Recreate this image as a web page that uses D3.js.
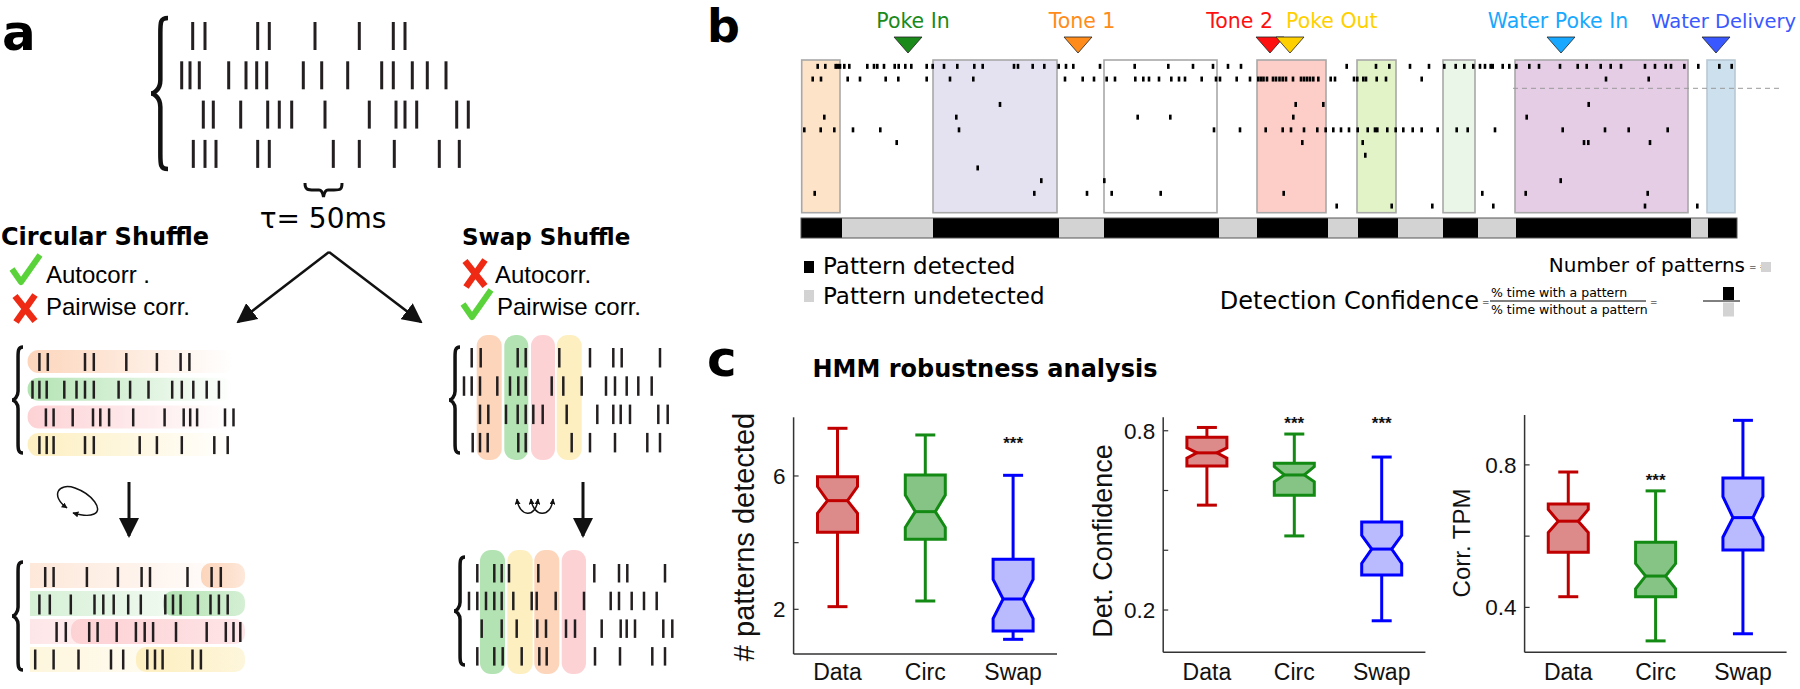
<!DOCTYPE html>
<html><head><meta charset="utf-8">
<script src="https://cdn.jsdelivr.net/npm/d3@7"></script>
<style>body{margin:0;background:#fff}svg{display:block}</style>
</head><body>
<svg id="fig" width="1800" height="689"></svg>
<script>
// ================= DATA =================
// Panel a: spike times (a.u.) per neuron
const spikesOrig = [
 [192.7,205,257.7,269.3,315,359.3,393.3,405],
 [181.7,190,199.3,228.7,246,256.7,266.7,303.3,321.7,347.7,381.7,393.3,412.3,427.3,446],
 [203.3,213.3,240.7,267.7,279.3,291.7,325,369.3,396,405,416.7,456.7,468.3],
 [193.3,205,216,257.7,269.3,333.3,359.3,394.3,439.3,459.3]
];
const spikesCircBefore = [
 [39.4,47.8,85,93.8,126.3,156.9,180.6,189.4],
 [32.5,39.4,46.7,64.3,76.5,85,93.8,118.6,130.1,148.5,172.2,181.8,193.3,206.7,218.9],
 [45.9,53.6,72.7,93,100.3,109.1,133.2,164.6,183.7,190.2,197.1,225,233.5],
 [39.4,46.7,53.6,85,93.8,139.7,156.9,181.8,214.3,227.7]
];
const spikesCircAfter = [
 [45.2,53.6,86.9,117.9,141.6,150,187.5,211.6,220.8],
 [39.4,49.8,70.8,94.5,103.3,113.7,128.2,140.8,165.3,173,180.6,197.9,210.5,218.9,227.7],
 [56.6,65.8,89.2,97.6,116.7,135.9,144.7,153.1,176,206.7,225.8,233.5,240.3],
 [35.2,53.6,78.5,111,123.2,147.3,155,162.6,192.5,200.9]
];
const spikesSwapBefore = [
 [471.7,480.7,517.7,525.7,559.3,590,613.3,621.7,660],
 [464,471.7,480,497.3,510,518.3,525.7,551.7,563.3,581.7,606,615,626.7,638.3,651.7],
 [480,488.3,506,517.7,525.7,533.3,542.7,566.7,597.3,613.3,620.7,630,658.3,667.7],
 [472.7,480,487.7,518.3,525.7,571.7,590,615,647.3,660]
];
const spikesSwapAfter = [
 [477.3,494.3,501.7,509,538.3,594.3,619,627.3,665],
 [469,477.3,486,494.3,501.7,513.3,531.7,536.7,555.7,584,610.7,619,631.7,644,656.7],
 [481.7,501.7,516.7,537.3,546,566,575,601.7,620.7,626.7,635,663.3,672.3],
 [477.3,494.3,502.7,521.7,539.3,546.7,595,620,652.3,665]
];
const neuronColors = ["#fcd5bb","#b3e3b3","#fdd2d5","#fdefc0"];
const swapWindowsBefore = [[476.7,501.7],[504.3,528.3],[531,555],[556.7,581.7]];
const swapWindowColorsBefore = [0,1,2,3];
const swapWindowsAfter = [[480,505],[507.3,532.7],[534.3,559.3],[561.7,586]];
const swapWindowColorsAfter = [1,3,0,2];

// Panel b: events
const eventNames = ["Poke In","Tone 1","Tone 2","Poke Out","Water Poke In","Water Delivery"];
const eventTimes = [908,1078,1270,1290,1561,1716];
const eventColors = ["#1a8a1a","#ff8c1a","#ff1010","#ffd000","#18a8ff","#3a58ff"];
// Panel b: HMM state segments (boundaries) and detected flag
const stateBounds = [801,842,933,1059,1104,1219,1257,1328,1358,1398,1443,1478,1516,1691,1708,1737];
const stateDetected = [1,0,1,0,1,0,1,0,1,0,1,0,1,0,1];
// Panel b: pattern boxes
const patternStart = [801.7,933,1104,1257,1357,1443,1515,1707];
const patternEnd   = [840,1057,1217,1326,1396,1475,1688,1735];
const patternColors = ["#fde3c8","#e4e2f0","#ffffff","#fdcdc8","#e2f3c8","#eaf6e8","#e5cde5","#cde0ee"];
// Panel b: spike raster, 12 neurons
const rasterB = [
 [817.7,825.3,835.7,837.7,840,844.3,849.3,867.3,874,877.3,884,894.7,898.7,905.3,911.3,926.7,932.7,944,957.3,974.3,982.7,1014,1018,1032.7,1044.3,1058.7,1066,1073.3,1100,1134.7,1168.3,1193,1213,1228,1241,1346.7,1376,1389.3,1410,1429,1444.3,1455.7,1464.3,1473.3,1480,1485,1490.7,1492.7,1502.7,1509.3,1516.3,1529.3,1539,1560,1577.7,1586.7,1600.7,1610.7,1621,1645,1655,1665.7,1671,1684.3,1698.3,1719.3,1731.7],
 [812.7,821,847.7,860,885.7,898.3,926.7,950,973.3,1065,1082.7,1094,1106.7,1115,1135.3,1143.3,1149,1159,1171.3,1179,1185,1201.7,1216,1220,1236.7,1250,1258.3,1261,1263.5,1267,1273,1276,1279.5,1282.7,1286,1293,1301,1304,1307,1310,1313.3,1318.3,1330.7,1335,1354,1357.3,1363.3,1366,1376.7,1386,1421.7,1606,1648.7],
 [],
 [1000,1295.7,1323.3,1588.7],
 [824.3,956.3,1137.7,1170.3,1293.3,1526.7],
 [804.3,820.7,834.3,853,880.3,959,1214,1240,1265.7,1282.7,1291,1304,1317.3,1325.7,1333.3,1341,1349,1357.7,1367.7,1375,1377.3,1387.3,1395.7,1403.3,1412.7,1421.7,1437.7,1456.7,1467.7,1495,1562.7,1605,1628.7,1667.7],
 [896.7,1302.3,1362.7,1584,1588.3,1650],
 [1365.3],
 [977.7],
 [1041.3,1104.3,1560.7],
 [814.7,1034.3,1087,1111.7,1160.7,1283.7,1482.3,1525.7,1647.7],
 [1336.7,1391.7,1432.3,1493.3,1645,1697.3]
];

// Panel c: box plot statistics
const categories = ["Data","Circ","Swap"];
const npWhiskLo = [2.08,2.25,1.10], npQ1 = [4.31,4.10,1.35], npNotchLo = [4.88,4.46,1.72],
      npMedian = [5.26,4.93,2.31], npNotchHi = [5.68,5.43,2.90], npQ3 = [5.98,6.03,3.50], npWhiskHi = [7.43,7.23,6.02];
const dcWhiskLo = [0.551,0.448,0.164], dcQ1 = [0.682,0.584,0.317], dcNotchLo = [0.708,0.629,0.356],
      dcMedian = [0.726,0.652,0.404], dcNotchHi = [0.743,0.680,0.450], dcQ3 = [0.778,0.691,0.495], dcWhiskHi = [0.811,0.789,0.712];
const tpWhiskLo = [0.43,0.306,0.326], tpQ1 = [0.555,0.43,0.561], tpNotchLo = [0.61,0.452,0.597],
      tpMedian = [0.642,0.488,0.652], tpNotchHi = [0.675,0.523,0.711], tpQ3 = [0.69,0.583,0.763], tpWhiskHi = [0.78,0.727,0.925];
const npSig = ["","","***"], dcSig = ["","***","***"], tpSig = ["","***",""];
const npTicks = [2,4,6], npTickLabels = ["2","","6"];
const dcTicks = [0.2,0.4,0.6,0.8], dcTickLabels = ["0.2","","","0.8"];
const tpTicks = [0.4,0.6,0.8], tpTickLabels = ["0.4","","0.8"];
const npStarLevel = 7.1, dcStarLevel = 0.839, tpStarLevel = 0.769;

// ================= DRAW =================
const svg = d3.select("#fig");
const defs = svg.append("defs");
const BOLD = "DejaVu Sans, sans-serif";
const ARIAL = "Liberation Sans, Arial, sans-serif";

function marker(id, size, color) {
  defs.append("marker").attr("id", id).attr("viewBox","0 0 10 10").attr("refX",9).attr("refY",5)
    .attr("markerWidth", size).attr("markerHeight", size).attr("markerUnits","userSpaceOnUse")
    .attr("orient","auto-start-reverse")
    .append("path").attr("d","M0,0 L10,5 L0,10 Z").attr("fill", color);
}
marker("arrBig", 20, "#111");
marker("arrSmall", 6, "#111");

neuronColors.forEach((c,i) => {
  const g1 = defs.append("linearGradient").attr("id","fade"+i);
  g1.append("stop").attr("offset","0%").attr("stop-color",c).attr("stop-opacity",1);
  g1.append("stop").attr("offset","100%").attr("stop-color",c).attr("stop-opacity",0);
  const g2 = defs.append("linearGradient").attr("id","light"+i);
  g2.append("stop").attr("offset","0%").attr("stop-color",c).attr("stop-opacity",0.55);
  g2.append("stop").attr("offset","100%").attr("stop-color",c).attr("stop-opacity",0.0);
  const g3 = defs.append("linearGradient").attr("id","seg"+i);
  g3.append("stop").attr("offset","0%").attr("stop-color",c).attr("stop-opacity",1);
  g3.append("stop").attr("offset","100%").attr("stop-color",c).attr("stop-opacity",0.55);
});

function vbrace(xt, y0, y1, w) {
  const ym = (y0+y1)/2, xb = xt + w*0.55, xe = xt + w;
  return `M${xe},${y0} C${xb},${y0} ${xb},${y0+4} ${xb},${y0+w*0.9} L${xb},${ym-w*0.8} C${xb},${ym-3} ${xt+2},${ym} ${xt},${ym} C${xt+2},${ym} ${xb},${ym+3} ${xb},${ym+w*0.8} L${xb},${y1-w*0.9} C${xb},${y1-4} ${xb},${y1} ${xe},${y1}`;
}
function spikeRows(g, rows, xs, top0, step, h, sw) {
  rows.forEach((r,i) => {
    g.selectAll(null).data(r).join("line")
      .attr("x1", d=>xs(d)).attr("x2", d=>xs(d))
      .attr("y1", top0 + i*step).attr("y2", top0 + i*step + h)
      .attr("stroke","#231f20").attr("stroke-width", sw);
  });
}
const ident = d3.scaleLinear().domain([0,1000]).range([0,1000]);

// ---------- Panel a ----------
const A = svg.append("g");
A.append("text").attr("x",2).attr("y",50).attr("font-family",BOLD).attr("font-weight","bold").attr("font-size",50).text("a");
A.append("path").attr("d", vbrace(151,18,169,17)).attr("fill","none").attr("stroke","#111").attr("stroke-width",4.5);
spikeRows(A, spikesOrig, ident, 22, 39.3, 28, 3);
// tau brace
A.append("path").attr("d","M305,183 C305,190 308,190 314,190 L319,190 C322,190 323,194 323.5,197 C324,194 325,190 328,190 L334,190 C340,190 342,190 342,183")
 .attr("fill","none").attr("stroke","#111").attr("stroke-width",3);
A.append("text").attr("x",323).attr("y",228).attr("text-anchor","middle").attr("font-family","DejaVu Sans, sans-serif").attr("font-size",28).text("τ= 50ms");
// diverging arrows
A.append("line").attr("x1",329).attr("y1",252).attr("x2",238).attr("y2",322).attr("stroke","#111").attr("stroke-width",2.5).attr("marker-end","url(#arrBig)");
A.append("line").attr("x1",329).attr("y1",252).attr("x2",421).attr("y2",322).attr("stroke","#111").attr("stroke-width",2.5).attr("marker-end","url(#arrBig)");
// titles
A.append("text").attr("x",1).attr("y",245).attr("font-family",BOLD).attr("font-weight","bold").attr("font-size",24).text("Circular Shuffle");
A.append("text").attr("x",462).attr("y",245).attr("font-family",BOLD).attr("font-weight","bold").attr("font-size",23).text("Swap Shuffle");
function check(x,y){ A.append("path").attr("d",`M${x},${y+14} L${x+9},${y+27} L${x+28},${y}`).attr("fill","none").attr("stroke","#5ad23a").attr("stroke-width",6).attr("stroke-linejoin","round"); }
function cross(x,y){ A.append("path").attr("d",`M${x+2},${y+2} L${x+22},${y+27} M${x+22},${y+1} L${x+3},${y+28}`).attr("fill","none").attr("stroke","#ee2a14").attr("stroke-width",6.5); }
check(12,255); cross(13,294);
A.append("text").attr("x",46).attr("y",283).attr("font-family",ARIAL).attr("font-size",24).text("Autocorr  .");
A.append("text").attr("x",46).attr("y",315).attr("font-family",ARIAL).attr("font-size",24).text("Pairwise corr.");
cross(463,259); check(463,290);
A.append("text").attr("x",495).attr("y",283).attr("font-family",ARIAL).attr("font-size",24).text("Autocorr.");
A.append("text").attr("x",497).attr("y",315).attr("font-family",ARIAL).attr("font-size",24).text("Pairwise corr.");

// circular, before
A.append("path").attr("d", vbrace(12,347,453,11)).attr("fill","none").attr("stroke","#111").attr("stroke-width",3.5);
neuronColors.forEach((c,i)=>{
  A.append("rect").attr("x",27.6).attr("y",350+i*27.7).attr("width",206).attr("height",23).attr("rx",11).attr("fill",`url(#fade${i})`);
});
spikeRows(A, spikesCircBefore, ident, 353, 27.7, 18, 2.5);
// swap, before
A.append("path").attr("d", vbrace(449,347,453,11)).attr("fill","none").attr("stroke","#111").attr("stroke-width",3.5);
swapWindowsBefore.forEach((w,i)=>{
  A.append("rect").attr("x",w[0]).attr("y",335).attr("width",w[1]-w[0]).attr("height",125).attr("rx",11).attr("fill",neuronColors[swapWindowColorsBefore[i]]);
});
spikeRows(A, spikesSwapBefore, ident, 348, 28.3, 19.5, 2.5);
// down arrows
A.append("line").attr("x1",129).attr("y1",482).attr("x2",129).attr("y2",536).attr("stroke","#111").attr("stroke-width",3).attr("marker-end","url(#arrBig)");
A.append("line").attr("x1",583).attr("y1",482).attr("x2",583).attr("y2",536).attr("stroke","#111").attr("stroke-width",3).attr("marker-end","url(#arrBig)");
// circular loop icon
A.append("path").attr("d","M67,508 C50,496 58,482 75,488 C92,494 104,510 94,514 C88,517 80,515 73,513")
 .attr("fill","none").attr("stroke","#111").attr("stroke-width",1.5).attr("marker-start","url(#arrSmall)").attr("marker-end","url(#arrSmall)");
// swap icon
["M517,499 C519,517 536,519 538,499","M531,499 C533,517 551,519 553,499"].forEach(p=>{
  A.append("path").attr("d",p).attr("fill","none").attr("stroke","#111").attr("stroke-width",1.5).attr("marker-start","url(#arrSmall)").attr("marker-end","url(#arrSmall)");
});
// circular, after
A.append("path").attr("d", vbrace(12,562,670,11)).attr("fill","none").attr("stroke","#111").attr("stroke-width",3.5);
const segRanges = [[201,245],[163,245],[71,245],[136,245]];
neuronColors.forEach((c,i)=>{
  A.append("rect").attr("x",30).attr("y",563+i*28).attr("width",215).attr("height",25).attr("fill",`url(#light${i})`);
  A.append("rect").attr("x",segRanges[i][0]).attr("y",563+i*28).attr("width",segRanges[i][1]-segRanges[i][0]).attr("height",25).attr("rx",10).attr("fill",`url(#seg${i})`);
});
spikeRows(A, spikesCircAfter, ident, 567, 27.5, 20, 2.5);
// swap, after
A.append("path").attr("d", vbrace(454,557,665,11)).attr("fill","none").attr("stroke","#111").attr("stroke-width",3.5);
swapWindowsAfter.forEach((w,i)=>{
  A.append("rect").attr("x",w[0]).attr("y",550).attr("width",w[1]-w[0]).attr("height",124).attr("rx",11).attr("fill",neuronColors[swapWindowColorsAfter[i]]);
});
spikeRows(A, spikesSwapAfter, ident, 564, 27.7, 18.5, 2.5);

// ---------- Panel b ----------
const B = svg.append("g");
B.append("text").attr("x",707).attr("y",42).attr("font-family",BOLD).attr("font-weight","bold").attr("font-size",46).text("b");
const bx = d3.scaleLinear().domain([800,1740]).range([800,1740]);
const by = d3.scaleBand().domain(d3.range(12)).range([60,212.4]);
patternStart.forEach((s,i)=>{
  B.append("rect").attr("x",bx(s)).attr("y",60).attr("width",bx(patternEnd[i])-bx(s)).attr("height",152.7)
   .attr("fill",patternColors[i]).attr("stroke", i===7 ? "#b8c8d4" : "#a8a8a8").attr("stroke-width",1.6);
});
rasterB.forEach((row,i)=>{
  B.selectAll(null).data(row).join("rect")
   .attr("x",d=>bx(d)-1.3).attr("y",by(i)+by.bandwidth()/2-2.5).attr("width",2.6).attr("height",5).attr("fill","#000");
});
B.append("line").attr("x1",1513).attr("x2",1783).attr("y1",88.3).attr("y2",88.3).attr("stroke","#999").attr("stroke-width",1).attr("stroke-dasharray","5,4");
// state bar
stateDetected.forEach((d,i)=>{
  B.append("rect").attr("x",bx(stateBounds[i])).attr("y",218).attr("width",bx(stateBounds[i+1])-bx(stateBounds[i])).attr("height",20)
   .attr("fill", d ? "#000" : "#d3d3d3");
});
B.append("rect").attr("x",bx(stateBounds[0])).attr("y",218).attr("width",bx(stateBounds[stateBounds.length-1])-bx(stateBounds[0])).attr("height",20)
 .attr("fill","none").attr("stroke","#555").attr("stroke-width",1);
// events
const labelX = [913,1082,1273,1286,1558,1796];
const labelAnchor = ["middle","middle","end","start","middle","end"];
const labelSize = [20.5,20.5,20.5,20.5,20.5,19.5];
eventTimes.forEach((t,i)=>{
  const x = bx(t);
  B.append("path").attr("d",`M${x-14},37 L${x+14},37 L${x},53 Z`).attr("fill",eventColors[i]).attr("stroke","#222").attr("stroke-width",0.8);
  B.append("text").attr("x",labelX[i]).attr("y",28).attr("text-anchor",labelAnchor[i]).attr("font-family","DejaVu Sans, sans-serif")
   .attr("font-size",labelSize[i]).attr("fill",eventColors[i]).text(eventNames[i]);
});
// legend
const LF = "DejaVu Sans, sans-serif";
B.append("rect").attr("x",804).attr("y",261).attr("width",10).attr("height",12).attr("fill","#000");
B.append("text").attr("x",823).attr("y",274).attr("font-family",LF).attr("font-size",23).text("Pattern detected");
B.append("rect").attr("x",804).attr("y",290).attr("width",10).attr("height",12).attr("fill","#d3d3d3");
B.append("text").attr("x",823).attr("y",304).attr("font-family",LF).attr("font-size",23).text("Pattern undetected");
B.append("text").attr("x",1745).attr("y",272).attr("text-anchor","end").attr("font-family",LF).attr("font-size",20).text("Number of patterns");
B.append("text").attr("x",1749).attr("y",270).attr("font-family",LF).attr("font-size",9).text("= #");
B.append("rect").attr("x",1761).attr("y",262).attr("width",10).attr("height",10).attr("fill","#d3d3d3");
B.append("text").attr("x",1479).attr("y",309).attr("text-anchor","end").attr("font-family",LF).attr("font-size",24).text("Detection Confidence");
B.append("text").attr("x",1482).attr("y",305).attr("font-family",LF).attr("font-size",9).text("=");
B.append("text").attr("x",1491).attr("y",297).attr("font-family",LF).attr("font-size",12.5).text("% time with a pattern");
B.append("line").attr("x1",1490).attr("x2",1646).attr("y1",301).attr("y2",301).attr("stroke","#000").attr("stroke-width",1);
B.append("text").attr("x",1491).attr("y",314).attr("font-family",LF).attr("font-size",12.5).text("% time without a pattern");
B.append("text").attr("x",1650).attr("y",305).attr("font-family",LF).attr("font-size",9).text("=");
B.append("line").attr("x1",1703).attr("x2",1740).attr("y1",301).attr("y2",301).attr("stroke","#000").attr("stroke-width",1);
B.append("rect").attr("x",1723).attr("y",287).attr("width",11).attr("height",13).attr("fill","#000");
B.append("rect").attr("x",1723).attr("y",302.5).attr("width",11).attr("height",14).attr("fill","#d3d3d3");

// ---------- Panel c ----------
const C = svg.append("g");
C.append("text").attr("x",707).attr("y",376).attr("font-family",BOLD).attr("font-weight","bold").attr("font-size",50).text("c");
C.append("text").attr("x",985).attr("y",377).attr("text-anchor","middle").attr("font-family",BOLD).attr("font-weight","bold").attr("font-size",24).text("HMM robustness analysis");
const strokeCols = ["#c00000","#138a13","#0000ff"];
const fillCols = ["#dc8a8a","#86c486","#babaff"];

function boxPanel(cfg) {
  const g = C.append("g");
  const x = d3.scalePoint().domain(categories).range([cfg.x0, cfg.x1]).padding(0.5);
  const y = d3.scaleLinear().domain(cfg.domain).range([cfg.yb, cfg.yt]);
  g.append("line").attr("x1",cfg.x0).attr("x2",cfg.x0).attr("y1",cfg.yt).attr("y2",cfg.yb).attr("stroke","#333").attr("stroke-width",1.5);
  g.append("line").attr("x1",cfg.x0).attr("x2",cfg.x1).attr("y1",cfg.yb).attr("y2",cfg.yb).attr("stroke","#333").attr("stroke-width",1.5);
  cfg.ticks.forEach((t,i)=>{
    g.append("line").attr("x1",cfg.x0).attr("x2",cfg.x0+5).attr("y1",y(t)).attr("y2",y(t)).attr("stroke","#333").attr("stroke-width",1.2);
    if (cfg.tickLabels[i]) g.append("text").attr("x",cfg.x0-8).attr("y",y(t)).attr("dy","0.35em").attr("text-anchor","end")
      .attr("font-family",ARIAL).attr("font-size",22.5).attr("fill","#111").text(cfg.tickLabels[i]);
  });
  categories.forEach(c=>{
    g.append("text").attr("x",x(c)).attr("y",680).attr("text-anchor","middle").attr("font-family",ARIAL).attr("font-size",23).attr("fill","#111").text(c);
  });
  g.append("text").attr("transform",`translate(${cfg.labelX},${cfg.labelY}) rotate(-90)`).attr("text-anchor","middle").attr("dy","0.35em")
    .attr("font-family",ARIAL).attr("font-size",cfg.labelSize).attr("fill","#111").text(cfg.label);
  const hw = 20, inset = 10, cap = 10;
  categories.forEach((c,i)=>{
    const cx = x(c);
    const L = cx-hw, R = cx+hw;
    g.append("line").attr("x1",cx).attr("x2",cx).attr("y1",y(cfg.wl[i])).attr("y2",y(cfg.q1[i])).attr("stroke",strokeCols[i]).attr("stroke-width",3);
    g.append("line").attr("x1",cx).attr("x2",cx).attr("y1",y(cfg.q3[i])).attr("y2",y(cfg.wh[i])).attr("stroke",strokeCols[i]).attr("stroke-width",3);
    g.append("line").attr("x1",cx-cap).attr("x2",cx+cap).attr("y1",y(cfg.wl[i])).attr("y2",y(cfg.wl[i])).attr("stroke",strokeCols[i]).attr("stroke-width",3);
    g.append("line").attr("x1",cx-cap).attr("x2",cx+cap).attr("y1",y(cfg.wh[i])).attr("y2",y(cfg.wh[i])).attr("stroke",strokeCols[i]).attr("stroke-width",3);
    const pts = [[L,y(cfg.q3[i])],[R,y(cfg.q3[i])],[R,y(cfg.nh[i])],[R-inset,y(cfg.med[i])],[R,y(cfg.nl[i])],[R,y(cfg.q1[i])],
                 [L,y(cfg.q1[i])],[L,y(cfg.nl[i])],[L+inset,y(cfg.med[i])],[L,y(cfg.nh[i])]];
    g.append("path").attr("d","M"+pts.map(p=>p.join(",")).join("L")+"Z").attr("fill",fillCols[i]).attr("stroke",strokeCols[i]).attr("stroke-width",3).attr("stroke-linejoin","miter");
    g.append("line").attr("x1",L+inset).attr("x2",R-inset).attr("y1",y(cfg.med[i])).attr("y2",y(cfg.med[i])).attr("stroke",strokeCols[i]).attr("stroke-width",3);
    if (cfg.sig[i]) g.append("text").attr("x",cx).attr("y",y(cfg.starLevel)+10).attr("text-anchor","middle").attr("font-family",ARIAL)
      .attr("font-weight","bold").attr("font-size",17).attr("fill","#111").text(cfg.sig[i]);
  });
}
boxPanel({x0:793.6,x1:1057,yt:417.3,yb:654,domain:[0.66,7.76],ticks:npTicks,tickLabels:npTickLabels,
  wl:npWhiskLo,q1:npQ1,nl:npNotchLo,med:npMedian,nh:npNotchHi,q3:npQ3,wh:npWhiskHi,sig:npSig,starLevel:npStarLevel,
  label:"# patterns detected",labelX:744,labelY:537,labelSize:29});
boxPanel({x0:1163.2,x1:1425.4,yt:417.3,yb:652.3,domain:[0.0585,0.845],ticks:dcTicks,tickLabels:dcTickLabels,
  wl:dcWhiskLo,q1:dcQ1,nl:dcNotchLo,med:dcMedian,nh:dcNotchHi,q3:dcQ3,wh:dcWhiskHi,sig:dcSig,starLevel:dcStarLevel,
  label:"Det. Confidence",labelX:1103,labelY:541,labelSize:27});
boxPanel({x0:1524.6,x1:1786.6,yt:415,yb:652.3,domain:[0.274,0.94],ticks:tpTicks,tickLabels:tpTickLabels,
  wl:tpWhiskLo,q1:tpQ1,nl:tpNotchLo,med:tpMedian,nh:tpNotchHi,q3:tpQ3,wh:tpWhiskHi,sig:tpSig,starLevel:tpStarLevel,
  label:"Corr. TPM",labelX:1462,labelY:543,labelSize:24});
</script>
</body></html>
